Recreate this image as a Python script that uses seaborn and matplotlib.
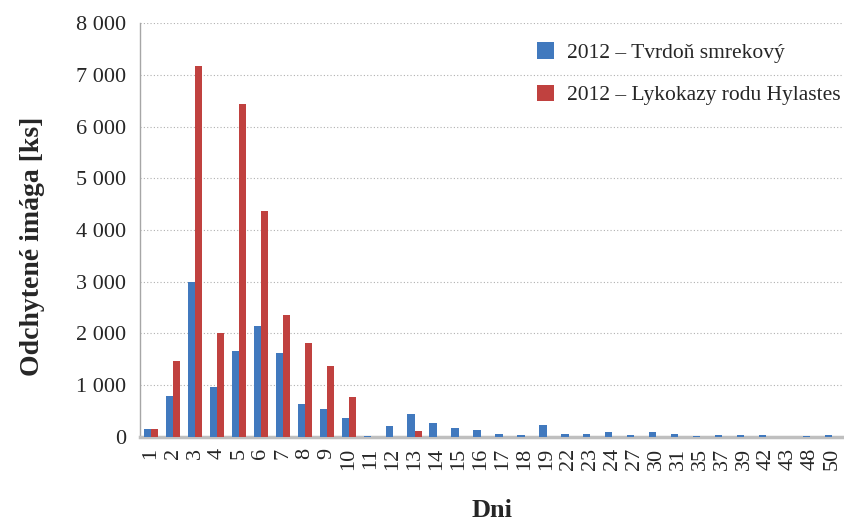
import numpy as np
import pandas as pd
import matplotlib
matplotlib.use('Agg')
import matplotlib.pyplot as plt
from matplotlib.ticker import FuncFormatter, MultipleLocator
import seaborn as sns

# ============================================================
# DATA
# ============================================================

days = ['1', '2', '3', '4', '5', '6', '7', '8', '9', '10', '11', '12', '13',
        '14', '15', '16', '17', '18', '19', '22', '23', '24', '27', '30', '31',
        '35', '37', '39', '42', '43', '48', '50']

tvrdon = [150, 780, 2990, 970, 1660, 2150, 1625, 640, 540, 370, 10, 205, 440,
          265, 170, 130, 50, 35, 225, 50, 50, 90, 35, 90, 50,
          15, 35, 35, 35, 5, 15, 35]

lykokazy = [150, 1470, 7180, 2010, 6440, 4360, 2360, 1820, 1370, 760, 0, 0, 110,
            0, 0, 0, 0, 0, 0, 0, 0, 0, 0, 0, 0,
            0, 0, 0, 0, 0, 0, 0]

series_names = ['2012 – Tvrdoň smrekový', '2012 – Lykokazy rodu Hylastes']
colors = ['#4179BE', '#C0413F']

df = pd.DataFrame({
    'den': days * 2,
    'pocet': tvrdon + lykokazy,
    'serie': [series_names[0]] * len(days) + [series_names[1]] * len(days),
})

# ============================================================
# PLOT
# ============================================================

sns.set_style('white')
plt.rcParams['font.family'] = ['Liberation Serif', 'DejaVu Serif']

fig, ax = plt.subplots(figsize=(8.44, 5.25), dpi=100)
fig.subplots_adjust(left=0.166, right=0.999, top=0.956, bottom=0.168)

sns.barplot(data=df, x='den', y='pocet', hue='serie', order=days,
            palette=colors, width=0.66, gap=0, saturation=1, linewidth=0,
            edgecolor='none', ax=ax, zorder=3)

ax.set_ylim(0, 8000)
ax.set_xlim(-0.5, len(days) - 0.5)
ax.yaxis.set_major_locator(MultipleLocator(1000))
ax.yaxis.set_major_formatter(FuncFormatter(lambda v, p: f'{int(v):,}'.replace(',', ' ')))
ax.grid(axis='y', color='#B0B0B0', linestyle=(0, (1, 2)), linewidth=0.8, zorder=0)

# x ticks between categories
ax.set_xticks(np.arange(len(days)))
ax.set_xticklabels(days, rotation=90, fontsize=16)
ax.set_xticks(np.arange(len(days) + 1) - 0.5, minor=True)
ax.tick_params(axis='x', which='major', length=0, pad=8)
ax.tick_params(axis='x', which='minor', length=8, width=1, color='#595959', direction='out')
ax.tick_params(axis='y', length=5, width=1, color='#595959', direction='out', labelsize=16, pad=5)

for s in ['top', 'right']:
    ax.spines[s].set_visible(False)
ax.spines['left'].set_color('#A6A6A6')
ax.spines['left'].set_linewidth(1)
ax.spines['bottom'].set_color('#BFBFBF')
ax.spines['bottom'].set_linewidth(2.5)

ax.set_xlabel('Dni', fontsize=19, fontweight='bold')
ax.set_ylabel('Odchytené imága [ks]', fontsize=20, fontweight='bold')
ax.xaxis.set_label_coords(0.5, -0.15)
ax.yaxis.set_label_coords(-0.135, 0.46)

leg = ax.legend(loc='upper right', frameon=False, fontsize=15.5, handlelength=0.8,
                handleheight=0.8, handletextpad=0.6, labelspacing=1.0,
                bbox_to_anchor=(1.024, 1.0))

plt.savefig('out.png', dpi=100)
plt.close()
